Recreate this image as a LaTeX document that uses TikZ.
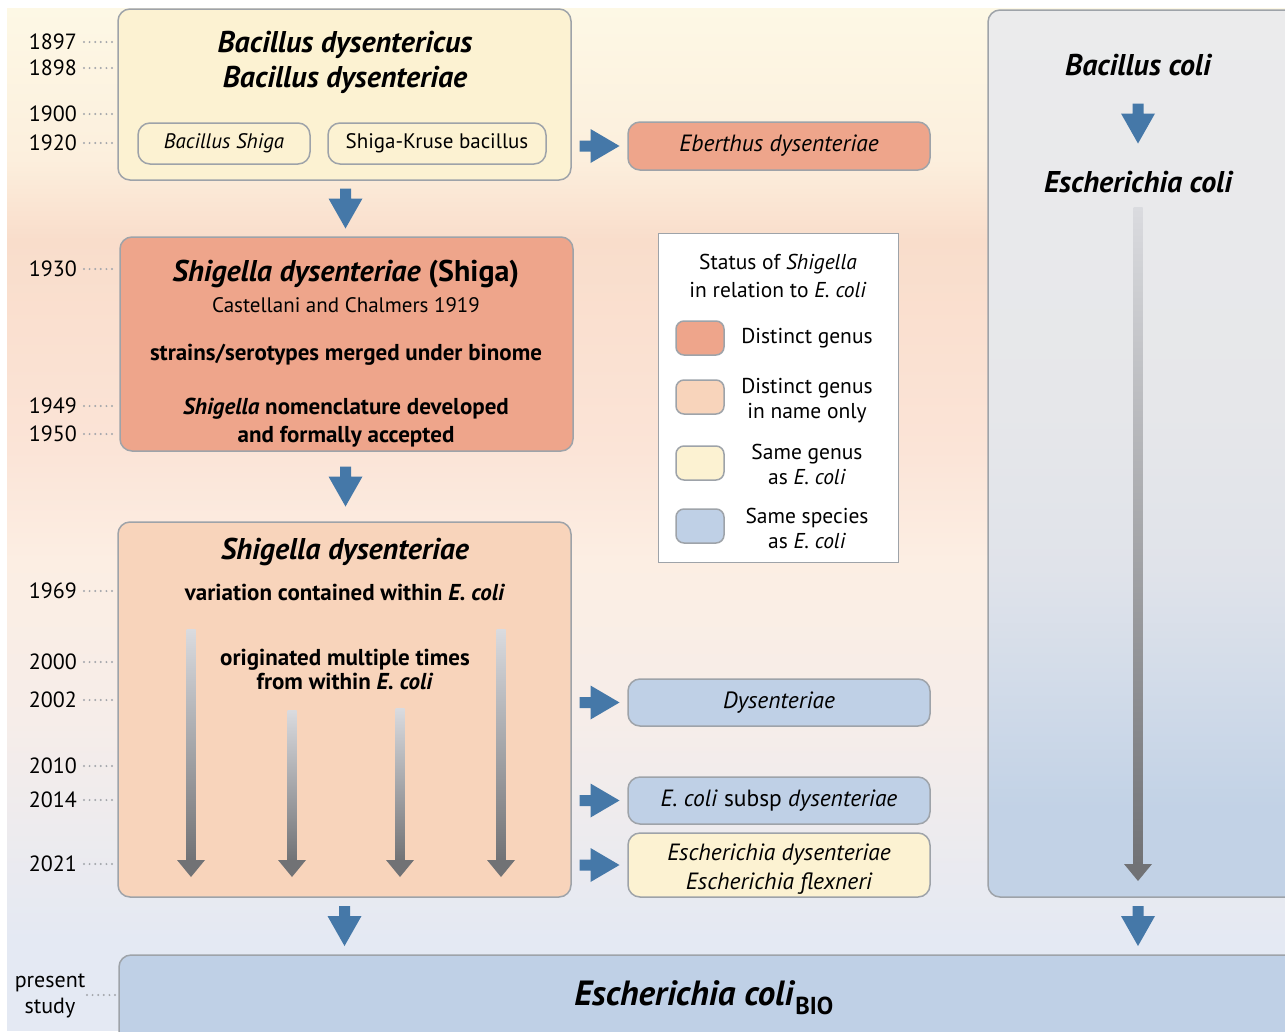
\documentclass[tikz,border=0pt]{standalone}
\usepackage{fontspec}
\setmainfont{PT Sans}
\usetikzlibrary{calc,positioning}

\definecolor{bgA}{HTML}{FDF8E5}
\definecolor{bgB}{HTML}{FCEFDD}
\definecolor{bgC}{HTML}{F9DDCB}
\definecolor{bgD}{HTML}{FBE4D7}
\definecolor{bgE}{HTML}{FCEEE3}
\definecolor{bgF}{HTML}{F6EDE9}
\definecolor{bgG}{HTML}{E4E9F3}
\definecolor{boxline}{HTML}{9EA3A9}
\definecolor{distinct}{HTML}{EEA58B}
\definecolor{nameonly}{HTML}{F8D4BB}
\definecolor{samegenus}{HTML}{FCF2D2}
\definecolor{samespecies}{HTML}{BFD0E6}
\definecolor{colA}{HTML}{EBEBEC}
\definecolor{colB}{HTML}{E6E7EA}
\definecolor{colC}{HTML}{E0E3EA}
\definecolor{colD}{HTML}{D3DCE9}
\definecolor{colE}{HTML}{C2D2E6}
\definecolor{arrowblue}{HTML}{4578A8}
\definecolor{shaftlight}{HTML}{DADBDF}
\definecolor{shaftdark}{HTML}{717275}
\definecolor{dotgrey}{HTML}{A3A6AB}

% tikz maps 25bp..75bp of the shading onto the path
\pgfdeclareverticalshading{colshade}{100bp}{color(0bp)=(colE); color(30bp)=(colE); color(37.5bp)=(colD); color(43.5bp)=(colC); color(52.5bp)=(colB); color(75bp)=(colA); color(100bp)=(colA)}

\newcommand{\fsTitle}{\fontsize{30}{35}\selectfont\bfseries}
\newcommand{\fsBox}{\fontsize{21}{26}\selectfont}
\newcommand{\fsBold}{\fontsize{23}{28}\selectfont\bfseries}
\newcommand{\fsName}{\fontsize{23.5}{29}\selectfont}
\newcommand{\fsYear}{\fontsize{22}{27}\selectfont}
\newcommand{\fsLegend}{\fontsize{21.5}{25}\selectfont}

\tikzset{
	box/.style={draw=boxline, line width=1.5pt, rounded corners=12pt, inner sep=0pt},
	redbox/.style={box, fill=distinct},
	peachbox/.style={box, fill=nameonly},
	yellowbox/.style={box, fill=samegenus},
	bluebox/.style={box, fill=samespecies},
	namebox/.style={minimum width=302pt, minimum height=47pt, font=\fsName\itshape},
	swatch/.style={box, rounded corners=8pt, minimum width=48pt, minimum height=34pt},
	txt/.style={inner sep=0pt, align=center, font=\fsBox},
	legtxt/.style={inner sep=0pt, align=center, font=\fsLegend},
	year/.style={anchor=east, inner sep=0pt, font=\fsYear},
	leader/.style={draw=dotgrey, line width=2.2pt, dash pattern=on 0pt off 5.6pt, line cap=round},
}

\def\blockdown(#1){\fill[arrowblue] (#1) ++(-5.5,-20) -- ++(11,0) -- ++(0,10) -- ++(11.5,0) -- ++(-17,30) -- ++(-17,-30) -- ++(11.5,0) -- cycle;}
\def\blockright(#1){\fill[arrowblue] (#1) ++(-20,-5.5) -- ++(11,0) -- ++(0,-11.5) -- ++(29,17) -- ++(-29,17) -- ++(0,-11.5) -- ++(-11,0) -- cycle;}
\def\greyarrow(#1)(#2){\shade[top color=shaftlight, bottom color=shaftdark] ($(#1)+(-4.5,0)$) rectangle ($(#2)+(4.5,-16)$);
	\fill[shaftdark] ($(#2)+(-14,-17)$) -- ($(#2)+(14,-17)$) -- (#2) -- cycle;}

\begin{document}
\begin{tikzpicture}[x=1pt,y=-1pt]
			\useasboundingbox (0,0) rectangle (1285,1031);
			\clip (0,0) rectangle (1285,1031);
			
			%%%%% BACKGROUND %%%%%
			
			\shade[top color=bgA, bottom color=bgB] (7,8) rectangle (1285,160);
			\shade[top color=bgB, bottom color=bgC] (7,159.5) rectangle (1285,240);
			\shade[top color=bgC, bottom color=bgD] (7,239.5) rectangle (1285,450);
			\shade[top color=bgD, bottom color=bgE] (7,449.5) rectangle (1285,560);
			\shade[top color=bgE, bottom color=bgF] (7,559.5) rectangle (1285,720);
			\shade[top color=bgF, bottom color=bgG] (7,719.5) rectangle (1285,940);
			\fill[bgG] (7,939.5) rectangle (1285,1031);
			
			%%%%% YEARS %%%%%
			
			\foreach \yr/\yy in {1897/42,1898/68,1900/114,1920/143,1930/269,1949/406,1950/434,1969/591,2000/662,2002/700,2010/766,2014/800,2021/864}{
				\node[year] (y\yr) at (77,\yy) {\yr};
				\draw[leader] ([xshift=7pt]y\yr.east) -- (116,\yy);
			}
			\node[year, anchor=center, align=center, font=\fontsize{22}{26}\selectfont] (ypresent) at (50,996) {present\\study};
			\draw[leader] (87,995) -- (116,995);
			
			%%%%% LEFT COLUMN %%%%%
			
			\node[yellowbox, minimum width=453pt, minimum height=171pt] (box1) at (344.5,94.5) {};
			\node[txt, font=\fsTitle\itshape] (bdys) at (345,62) {Bacillus dysentericus\\Bacillus dysenteriae};
			\node[yellowbox, minimum width=172pt, minimum height=41pt, font=\fsBox\itshape] (bshiga) at (224,143.5) {Bacillus Shiga};
			\node[yellowbox, minimum width=218pt, minimum height=41pt, font=\fsBox] (kruse) at (437,143.5) {Shiga-Kruse bacillus};
			
			\node[redbox, minimum width=453pt, minimum height=214pt] (box2) at (346.5,344) {};
			\node[txt, font=\fsTitle] (sdys) at (346,274) {\textit{Shigella dysenteriae} (Shiga)};
			\node[txt] (castel) at (346,305) {Castellani and Chalmers 1919};
			\node[txt, font=\fsBold] (merged) at (346,355) {strains/serotypes merged under binome};
			\node[txt, font=\fsBold, text depth=0pt] (nomen) at (346,420) {\textit{Shigella} nomenclature developed\\and formally accepted};
			
			\node[peachbox, minimum width=453pt, minimum height=375pt] (box3) at (344.5,709.5) {};
			\node[txt, font=\fsTitle\itshape] (sdys2) at (345,552) {Shigella dysenteriae};
			\node[txt, font=\fsBold] (variation) at (345,592) {variation contained within \textit{E. coli}};
			\node[txt, font=\fontsize{23}{24}\selectfont\bfseries] (multiple) at (345,669) {originated multiple times\\from within \textit{E. coli}};
			
			\greyarrow(191,629)(191,877)
			\greyarrow(292,710)(292,877)
			\greyarrow(400,708)(400,877)
			\greyarrow(501,629)(501,877)
			
			%%%%% NAMES %%%%%
			
			\node[redbox, namebox, minimum height=48pt] (eberthus) at (779,146) {Eberthus dysenteriae};
			\node[bluebox, namebox] (dysent) at (779,702.5) {Dysenteriae};
			\node[bluebox, namebox, font=\fsName] (subsp) at (779,800.5) {\textit{E. coli} subsp \textit{dysenteriae}};
			\node[yellowbox, namebox, minimum height=64pt] (escher) at (779,865) {};
			\node[txt, font=\fsName\itshape] (escherlbl) at (779,869) {Escherichia dysenteriae\\Escherichia flexneri};
			
			%%%%% LEGEND %%%%%
			
			\node[draw=boxline, line width=1pt, fill=white, minimum width=240pt, minimum height=329pt, inner sep=0pt] (legend) at (778,397.5) {};
			\node[legtxt, font=\fontsize{21.5}{28}\selectfont] (legtitle) at (778,276) {Status of \textit{Shigella}\\in relation to \textit{E. coli}};
			\node[swatch, fill=distinct] (sw1) at (700,338) {};
			\node[swatch, fill=nameonly] (sw2) at (700,397) {};
			\node[swatch, fill=samegenus] (sw3) at (700,463) {};
			\node[swatch, fill=samespecies] (sw4) at (700,526) {};
			\node[legtxt] (lab1) at (807,338) {Distinct genus};
			\node[legtxt] (lab2) at (807,401) {Distinct genus\\in name only};
			\node[legtxt] (lab3) at (807,464) {Same genus\\as \textit{E. coli}};
			\node[legtxt] (lab4) at (807,528) {Same species\\as \textit{E. coli}};
			
			%%%%% RIGHT COLUMN %%%%%
			
			\node[box, shading=colshade, minimum width=320pt, minimum height=887pt] (colibox) at (1148,453.5) {};
			\node[txt, font=\fsTitle\itshape] (bcoli) at (1138,65) {Bacillus coli};
			\node[txt, font=\fsTitle\itshape] (ecoli) at (1138,182) {Escherichia coli};
			\greyarrow(1138,207)(1138,881)
			
			%%%%% PRESENT %%%%%
			
			\node[bluebox, minimum width=1190pt, minimum height=110pt] (bio) at (714,1010) {};
			\node[txt, font=\fontsize{35}{40}\selectfont\bfseries] (ecolibio) at (704,998) {\textit{Escherichia coli}\textsubscript{BIO}};
			
			%%%%% BLOCK ARROWS %%%%%
			
			\coordinate (a1) at ($(box1.south)!0.5!(box2.north)$);
			\coordinate (a2) at ($(box2.south)!0.5!(box3.north)$);
			\coordinate (a3) at ($(box3.south)!0.5!(box3.south |- bio.north)$);
			\coordinate (a4) at ($(ecoli |- colibox.south)!0.5!(ecoli |- bio.north)$);
			\coordinate (a5) at ($(bcoli)!0.5!(ecoli)$);
			\blockdown(a1)
			\blockdown(a2)
			\blockdown(a3)
			\blockdown(a4)
			\blockdown(a5)
			
			\coordinate (r1) at ($(box1.east |- eberthus.west)!0.5!(eberthus.west)$);
			\coordinate (r2) at ($(box3.east |- dysent.west)!0.5!(dysent.west)$);
			\coordinate (r3) at ($(box3.east |- subsp.west)!0.5!(subsp.west)$);
			\coordinate (r4) at ($(box3.east |- escher.west)!0.5!(escher.west)$);
			\blockright(r1)
			\blockright(r2)
			\blockright(r3)
			\blockright(r4)
			
			%%%%% END %%%%%
\end{tikzpicture}
\end{document}
